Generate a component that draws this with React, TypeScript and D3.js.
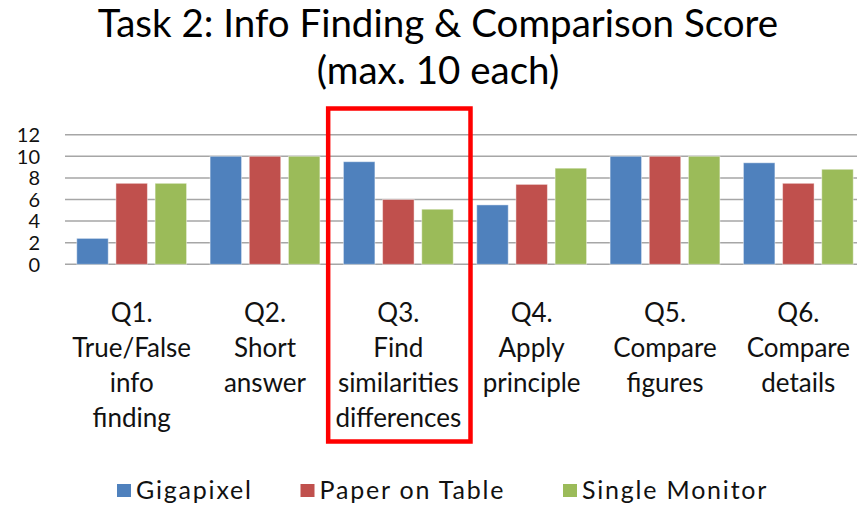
import { useMemo } from "react";
import * as d3 from "d3";

const CATEGORIES = ["Q1", "Q2", "Q3", "Q4", "Q5", "Q6"];
const CATEGORY_LABELS = [
  ["Q1.", "True/False", "info", "finding"],
  ["Q2.", "Short", "answer"],
  ["Q3.", "Find", "similarities", "differences"],
  ["Q4.", "Apply", "principle"],
  ["Q5.", "Compare", "figures"],
  ["Q6.", "Compare", "details"],
];
const SERIES = ["Gigapixel", "Paper on Table", "Single Monitor"];
const GIGAPIXEL = [2.4, 10, 9.5, 5.5, 10, 9.4];
const PAPER_ON_TABLE = [7.5, 10, 6.0, 7.4, 10, 7.5];
const SINGLE_MONITOR = [7.5, 10, 5.1, 8.9, 10, 8.8];
const Y_TICKS = [0, 2, 4, 6, 8, 10, 12];
const COLORS = ["#4F81BD", "#C0504D", "#9BBB59"];
const HIGHLIGHT = "Q3";

const W = 857;
const H = 506;
const FONT = "Lato, 'Open Sans', sans-serif";

export default function App() {
  const values = [GIGAPIXEL, PAPER_ON_TABLE, SINGLE_MONITOR];

  const x = useMemo(
    () => d3.scaleBand<string>().domain(CATEGORIES).range([65, 865]).padding(0),
    []
  );
  const xs = useMemo(
    () =>
      d3
        .scaleBand<string>()
        .domain(SERIES)
        .range([0, x.bandwidth()])
        .paddingInner(0.196)
        .paddingOuter(0.3),
    [x]
  );
  const y = useMemo(() => d3.scaleLinear().domain([0, 12]).range([264.3, 134.7]), []);

  const hx = x(HIGHLIGHT)!;

  return (
    <svg
      width={W}
      height={H}
      style={{ position: "absolute", left: 0, top: 0, background: "#fff" }}
      fontFamily={FONT}
    >
      {/* title */}
      <text x={438} y={37} textAnchor="middle" fontSize={38.5} fill="#000">
        Task 2: Info Finding &amp; Comparison Score
      </text>
      <text x={438} y={84} textAnchor="middle" fontSize={38.5} fill="#000">
        (max. 10 each)
      </text>

      {/* gridlines */}
      {Y_TICKS.map((t) => (
        <line
          key={t}
          x1={65}
          x2={W}
          y1={y(t)}
          y2={y(t)}
          stroke="#a6a6a6"
          strokeWidth={1.5}
        />
      ))}
      {Y_TICKS.map((t) => (
        <text
          key={"l" + t}
          x={40}
          y={y(t)}
          dy="0.36em"
          textAnchor="end"
          fontSize={20}
          fill="#111"
        >
          {t}
        </text>
      ))}

      {/* bars */}
      {SERIES.map((s, si) => (
        <g key={s} fill={COLORS[si]}>
          {CATEGORIES.map((c, ci) => (
            <rect
              key={c}
              x={x(c)! + xs(s)!}
              y={y(values[si][ci])}
              width={xs.bandwidth()}
              height={y(0) - y(values[si][ci])}
              stroke="#ffffff"
              strokeOpacity={0.45}
              strokeWidth={1}
            />
          ))}
        </g>
      ))}

      {/* category labels */}
      {CATEGORIES.map((c, ci) => (
        <text
          key={c}
          x={x(c)! + x.bandwidth() / 2}
          y={321.7}
          textAnchor="middle"
          fontSize={26}
          fill="#111"
        >
          {CATEGORY_LABELS[ci].map((line, li) => (
            <tspan key={li} x={x(c)! + x.bandwidth() / 2} dy={li === 0 ? 0 : 35}>
              {line}
            </tspan>
          ))}
        </text>
      ))}

      {/* highlight box */}
      <rect
        x={hx - 3.5}
        y={108.5}
        width={x.bandwidth() + 9}
        height={333}
        fill="none"
        stroke="#ff0000"
        strokeWidth={4.5}
      />

      {/* legend */}
      {SERIES.map((s, si) => {
        const lx = [117, 300.5, 563][si];
        return (
          <g key={s}>
            <rect x={lx} y={484} width={14} height={13} fill={COLORS[si]} />
            <text x={lx + 19} y={499} fontSize={25} letterSpacing={1.8} fill="#111">
              {s}
            </text>
          </g>
        );
      })}
    </svg>
  );
}
